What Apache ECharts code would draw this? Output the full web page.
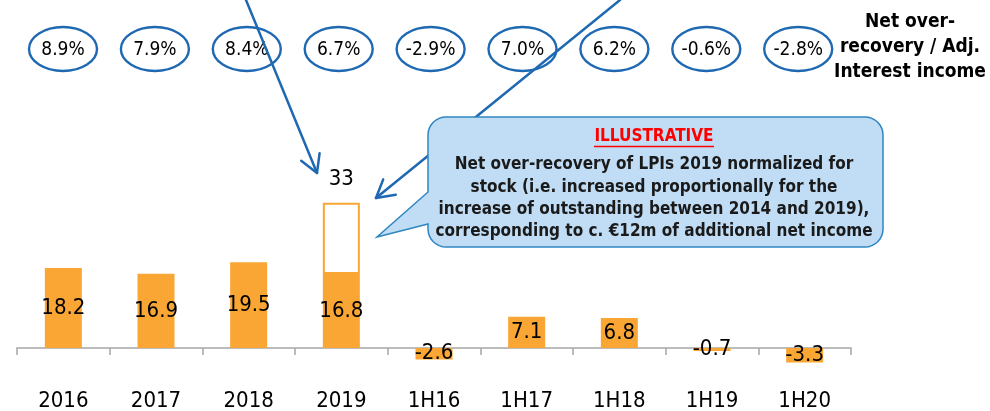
<!DOCTYPE html>
<html>
<head>
<meta charset="utf-8">
<script src="https://cdn.jsdelivr.net/npm/echarts@6/dist/echarts.min.js"></script>
<style>
  html, body { margin: 0; padding: 0; background: #fff; }
  #chart { width: 990px; height: 411px; }
</style>
</head>
<body>
<div id="chart"></div>
<script>
// data
var categories = ['2016', '2017', '2018', '2019', '1H16', '1H17', '1H18', '1H19', '1H20']
var netOverRecovery = [18.2, 16.9, 19.5, 16.8, -2.6, 7.1, 6.8, -0.7, -3.3]
var normalizedTotal = [null, null, null, 33, null, null, null, null, null]
var ratioLabels = ['8.9%', '7.9%', '8.4%', '6.7%', '-2.9%', '7.0%', '6.2%', '-0.6%', '-2.8%']
var calloutLines = [
  'Net over-recovery of LPIs 2019 normalized for',
  'stock (i.e. increased proportionally for the',
  'increase of outstanding between 2014 and 2019),',
  'corresponding to c. €12m of additional net income'
]

var FONT = "'DejaVu Sans Condensed', 'DejaVu Sans', sans-serif"
var ORANGE = '#FAA634'
var BLUE = '#1F69B3'

// part of the normalized 2019 bar above the reported value
var normalizedExtra = normalizedTotal.map(function (t, i) {
  return t == null ? null : t - netOverRecovery[i]
})

var myChart = echarts.init(document.getElementById('chart'))

function arrow(x0, y0, x1, y1, len, ang) {
  var a = Math.atan2(y1 - y0, x1 - x0) + Math.PI
  var w1 = [x1 + len * Math.cos(a + ang), y1 + len * Math.sin(a + ang)]
  var w2 = [x1 + len * Math.cos(a - ang), y1 + len * Math.sin(a - ang)]
  var style = { stroke: BLUE, lineWidth: 2.5, fill: null, lineCap: 'round', lineJoin: 'round' }
  return [
    { type: 'line', z: 10, shape: { x1: x0, y1: y0, x2: x1, y2: y1 }, style: style },
    { type: 'polyline', z: 10, shape: { points: [w1, [x1, y1], w2] }, style: style }
  ]
}

// rounded corner points, going clockwise
function corner(pts, cx, cy, r, a0) {
  for (var k = 0; k <= 8; k++) {
    var a = (a0 + k * 90 / 8) * Math.PI / 180
    pts.push([cx + r * Math.cos(a), cy + r * Math.sin(a)])
  }
}

function bubble(x0, y0, x1, y1, r, pb0, pb1, tip) {
  var pts = []
  corner(pts, x0 + r, y0 + r, r, 180)
  corner(pts, x1 - r, y0 + r, r, 270)
  corner(pts, x1 - r, y1 - r, r, 0)
  corner(pts, x0 + r, y1 - r, r, 90)
  pts.push([x0, pb1])
  pts.push(tip)
  pts.push([x0, pb0])
  return pts
}

var graphics = []

// ratio ellipses on top
ratioLabels.forEach(function (txt, i) {
  var cx = 63 + i * 91.9
  graphics.push({
    type: 'ellipse', z: 5,
    shape: { cx: cx, cy: 49, rx: 34, ry: 22 },
    style: { fill: '#fff', stroke: BLUE, lineWidth: 2.4 }
  })
  graphics.push({
    type: 'text', z: 6, x: cx, y: 50,
    style: { text: txt, font: '19px ' + FONT, fill: '#000', align: 'center', verticalAlign: 'middle' }
  })
})

graphics.push({
  type: 'text', z: 6, x: 910, y: 47,
  style: {
    text: 'Net over-\nrecovery / Adj.\nInterest income',
    font: 'bold 19px ' + FONT, lineHeight: 25, fill: '#000', align: 'center', verticalAlign: 'middle'
  }
})

// arrows, behind the ellipses and the callout
graphics = graphics.concat(arrow(246, 0, 317, 173, 20, 0.52))
graphics = graphics.concat(arrow(620, 0, 376, 198, 20, 0.52))

// callout bubble
graphics.push({
  type: 'polygon', z: 20,
  shape: { points: bubble(428, 117, 883, 247, 18, 192, 224, [377, 237]) },
  style: { fill: '#C0DDF5', stroke: '#2E86C1', lineWidth: 1.5 }
})
graphics.push({
  type: 'text', z: 21, x: 654, y: 137,
  style: { text: 'ILLUSTRATIVE', font: 'bold 17px ' + FONT, fill: '#FF0000', align: 'center', verticalAlign: 'middle' }
})
graphics.push({
  type: 'line', z: 21,
  shape: { x1: 594, y1: 146.5, x2: 714, y2: 146.5 },
  style: { stroke: '#FF0000', lineWidth: 1.5 }
})
calloutLines.forEach(function (line, i) {
  graphics.push({
    type: 'text', z: 21, x: 654, y: 165 + i * 22.3,
    style: { text: line, font: 'bold 17px ' + FONT, fill: '#1a1a1a', align: 'center', verticalAlign: 'middle' }
  })
})

var option = {
  animation: false,
  // zero line lands at y=348, grid bottom at y=370
  grid: { left: 17, right: 139, top: 172, bottom: 41, outerBoundsMode: 'none' },
  xAxis: {
    type: 'category',
    data: categories,
    axisLine: { lineStyle: { color: '#A6A6A6', width: 1.5 } },
    axisTick: { show: true, length: 7, lineStyle: { color: '#A6A6A6', width: 1.5 } },
    axisLabel: {
      interval: 0,
      fontSize: 22,
      fontFamily: FONT,
      color: '#000',
      margin: 20,
      lineHeight: 22
    }
  },
  yAxis: {
    type: 'value',
    min: -5,
    max: 40,
    show: false,
    splitLine: { show: false }
  },
  series: [
    {
      name: 'reported',
      type: 'bar',
      stack: 'total',
      barWidth: 37,
      data: netOverRecovery,
      itemStyle: { color: ORANGE },
      label: {
        show: true,
        position: 'inside',
        fontSize: 22,
        fontFamily: FONT,
        color: '#000'
      }
    },
    {
      name: 'normalized',
      type: 'bar',
      stack: 'total',
      barWidth: 37,
      data: normalizedExtra,
      itemStyle: { color: '#fff', borderColor: ORANGE, borderWidth: 2 },
      label: {
        show: true,
        position: 'top',
        distance: 13,
        fontSize: 22,
        fontFamily: FONT,
        color: '#000',
        formatter: function (p) {
          return normalizedTotal[p.dataIndex]
        }
      }
    }
  ],
  graphic: graphics
}

myChart.setOption(option)
</script>
</body>
</html>
